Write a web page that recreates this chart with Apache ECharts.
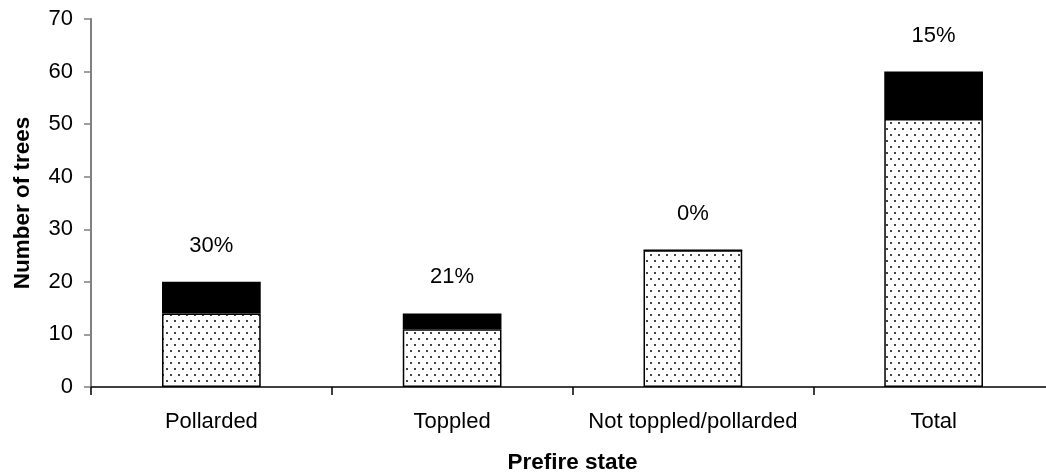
<!DOCTYPE html>
<html>
<head>
<meta charset="utf-8">
<script src="https://cdn.jsdelivr.net/npm/echarts@6/dist/echarts.min.js"></script>
<style>
html,body{margin:0;padding:0;background:#fff;}
#chart{width:1046px;height:476px;}
</style>
</head>
<body>
<div id="chart"></div>
<script>
var categories = ['Pollarded', 'Toppled', 'Not toppled/pollarded', 'Total'];
var lowerValues = [14, 11, 26, 51];
var upperValues = [6, 3, 0, 9];
var percentLabels = ['30%', '21%', '0%', '15%'];

var FONT = "'Liberation Sans', Arial, sans-serif";

function makeDots() {
  var c = document.createElement('canvas');
  c.width = 8; c.height = 12;
  var g = c.getContext('2d');
  g.fillStyle = '#ffffff';
  g.fillRect(0, 0, 8, 12);
  g.fillStyle = '#444444';
  g.fillRect(2, 2, 2, 2);
  g.fillRect(6, 8, 2, 2);
  return c;
}

var chart = echarts.init(document.getElementById('chart'), null, {renderer: 'canvas'});
chart.setOption({
  animation: false,
  backgroundColor: '#ffffff',
  textStyle: {fontFamily: FONT},
  grid: {left: 91, top: 19, width: 963, height: 368, containLabel: false, outerBoundsMode: 'none'},
  xAxis: {
    type: 'category',
    data: categories,
    axisLine: {show: true, lineStyle: {color: '#000', width: 1.5}},
    axisTick: {show: true, alignWithLabel: false, interval: 0, length: 8, lineStyle: {color: '#000', width: 1.5}},
    axisLabel: {fontSize: 22, color: '#000', margin: 24, interval: 0, fontFamily: FONT},
    splitLine: {show: false},
    name: 'Prefire state',
    nameLocation: 'middle',
    nameGap: 64,
    nameTextStyle: {fontSize: 22.5, fontWeight: 'bold', color: '#000', fontFamily: FONT}
  },
  yAxis: {
    type: 'value',
    min: 0, max: 70, interval: 10,
    axisLine: {show: true, lineStyle: {color: '#808080', width: 2}},
    axisTick: {show: true, length: 7, lineStyle: {color: '#808080', width: 1.5}},
    axisLabel: {fontSize: 22, color: '#000', margin: 18, fontFamily: FONT},
    splitLine: {show: false},
    name: 'Number of trees',
    nameLocation: 'middle',
    nameRotate: 90,
    nameGap: 57,
    nameTextStyle: {fontSize: 22.5, fontWeight: 'bold', color: '#000', fontFamily: FONT}
  },
  series: [
    {
      name: 'Lower',
      type: 'bar',
      stack: 'trees',
      barWidth: '41%',
      data: lowerValues,
      itemStyle: {color: {image: makeDots(), repeat: 'repeat'}, borderColor: '#000', borderWidth: 1.5}
    },
    {
      name: 'Upper',
      type: 'bar',
      stack: 'trees',
      barWidth: '41%',
      data: upperValues,
      itemStyle: {color: '#000', borderColor: '#000', borderWidth: 1.5},
      label: {
        show: true,
        position: 'top',
        distance: 25,
        fontSize: 22,
        color: '#000',
        fontFamily: FONT,
        formatter: function (p) { return percentLabels[p.dataIndex]; }
      }
    }
  ]
});
</script>
</body>
</html>
